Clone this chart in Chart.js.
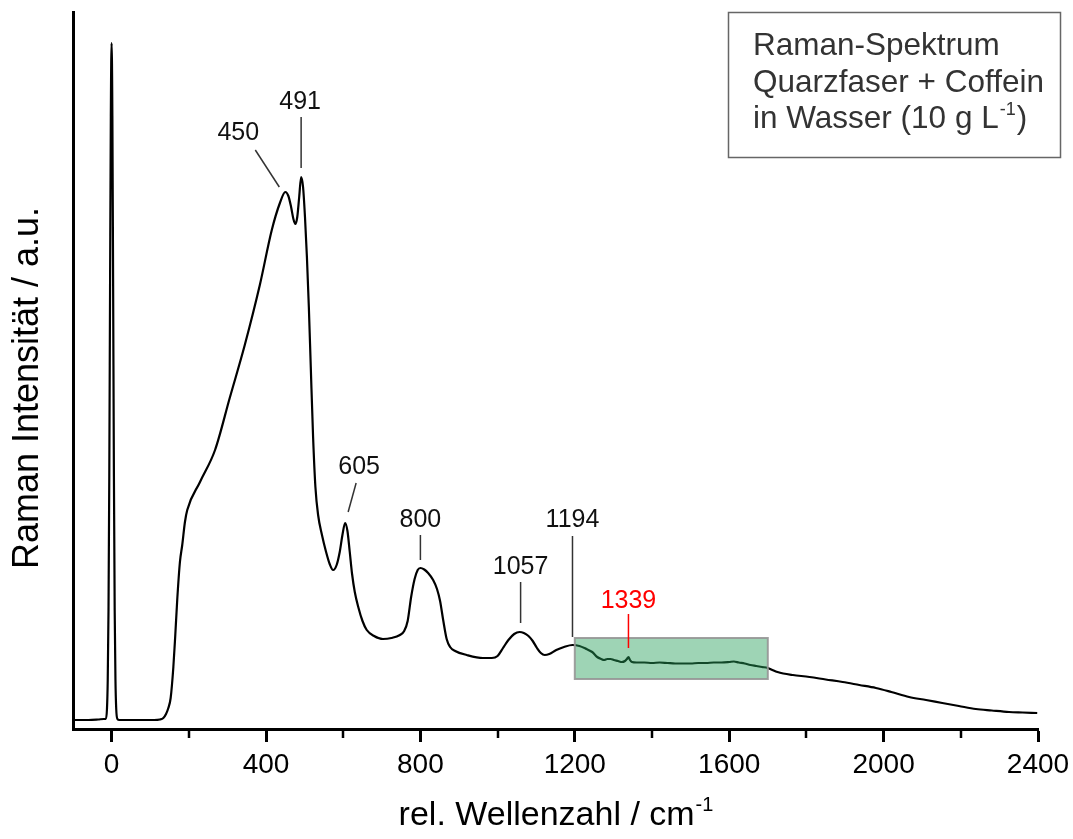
<!DOCTYPE html>
<html>
<head>
<meta charset="utf-8">
<script src="https://cdn.jsdelivr.net/npm/chart.js@4.4.1/dist/chart.umd.min.js"></script>
<style>
  html, body { margin: 0; padding: 0; background: #fff; }
</style>
</head>
<body>
<canvas id="spectrum" width="1073" height="839"></canvas>
<script>
// Raman spectrum: quartz fibre + caffeine in water
const wavenumber = [
  -100, -60, -35, -20, -15, -12, -10, -8, -6, -4, -2, 0, 2, 4, 6, 8, 10, 12, 15, 20, 40, 80, 110,
  125, 134, 141, 147, 153, 160, 165, 170, 177, 183, 190, 196, 229, 268, 306, 345, 384, 415, 436,
  450, 458, 465, 471, 476, 481, 486, 491, 496, 501, 506, 511,
  516, 522, 528, 535, 545, 555, 565, 574, 583, 591, 598, 605, 611, 617, 623, 630, 639, 650, 661,
  680, 703, 725, 747, 758, 767, 776, 785, 793, 800, 810, 820, 833, 843, 851, 859, 868, 877, 890,
  920, 962, 985, 1000, 1014, 1028, 1043, 1057, 1068, 1080, 1091, 1102, 1112, 1122, 1134, 1152,
  1172, 1194, 1212, 1230, 1245, 1258, 1268, 1276, 1284, 1293, 1301, 1312, 1322, 1330, 1335, 1339,
  1343, 1348, 1360, 1380, 1400, 1420, 1440, 1460, 1480, 1500, 1520, 1540, 1560, 1580, 1600, 1612,
  1625, 1640, 1655, 1670, 1685, 1700, 1712, 1725, 1740, 1765, 1808, 1850, 1894, 1937, 1980, 2020,
  2066, 2110, 2152, 2195, 2239, 2280, 2325, 2360, 2398
];
const intensity = [
  7, 7, 7.5, 8, 8, 18, 47, 117, 251, 437, 611, 684, 611, 437, 251, 117, 47, 18, 8, 7, 7, 7, 7,
  7.5, 9, 13, 19, 29, 60, 92, 127, 165, 182, 205, 217, 245, 277, 329, 382, 442, 497, 524,
  535, 531, 520, 508, 503, 510, 530, 550, 540, 510, 470, 420,
  360, 290, 240, 212, 192, 176, 163, 157, 162, 175, 192, 204, 196, 175, 153, 135, 120, 106, 97,
  91, 88, 89, 92, 96, 106, 130, 148, 157, 159, 157.5, 154, 147, 138, 126, 107, 88, 80, 76,
  72, 69, 69, 71, 79, 87, 93, 95, 94, 91, 86, 79, 74, 72, 73, 77,
  80, 82, 81, 78, 75, 70, 68, 67, 68, 68, 67, 66, 65, 66, 68, 70,
  67, 65, 64.5, 64.5, 64, 64.5, 64, 63.5, 63.5, 63.5, 64, 64, 64.5, 64.5, 65, 65.5,
  64.5, 63.5, 62, 61, 60, 59, 57, 55, 53.5, 52, 50, 47.5, 45, 42, 39, 35,
  30, 27, 24, 21, 18, 16.5, 15, 14.5, 14
];

const peakPositions = [450, 491, 605, 800, 1057, 1194, 1339];
const peakLabels = ['450', '491', '605', '800', '1057', '1194', '1339'];
const highlightRange = [1200, 1700];
const highlightLevels = [48, 89];

const FONT = "'Liberation Sans', Arial, sans-serif";

// label placement around each peak, in pixels relative to the peak top
const labelLayout = {
  450:  { text: [-47, -59], from: [-6, -5], to: [-30, -42] },
  491:  { text: [-1, -75],  from: [0, -9],  to: [0, -60] },
  605:  { text: [14, -56],  from: [3, -11], to: [11, -40] },
  800:  { text: [0, -48],   from: [0, -8],  to: [0, -33] },
  1057: { text: [1, -65],   from: [1, -9],  to: [1, -50] },
  1194: { text: [0, -125],  from: [0, -8],  to: [0, -109] },
  1339: { text: [0, -56],   from: [0, -9],  to: [0, -43], color: '#ff0000' }
};

function drawSup(ctx, main, sup, x, y, size, supSize, align) {
  ctx.font = size + 'px ' + FONT;
  const w1 = ctx.measureText(main).width;
  ctx.font = supSize + 'px ' + FONT;
  const w2 = ctx.measureText(sup).width;
  let start = x;
  if (align === 'center') start = x - (w1 + w2) / 2;
  ctx.textAlign = 'left';
  ctx.font = size + 'px ' + FONT;
  ctx.fillText(main, start, y);
  ctx.font = supSize + 'px ' + FONT;
  ctx.fillText(sup, start + w1 + 1, y - size * 0.42);
  return start + w1 + 1 + w2;
}

const highlightBox = {
  id: 'highlightBox',
  afterDatasetsDraw(chart) {
    const { ctx, scales: { x, y } } = chart;
    const x0 = x.getPixelForValue(highlightRange[0]);
    const x1 = x.getPixelForValue(highlightRange[1]);
    const y0 = y.getPixelForValue(highlightLevels[1]);
    const y1 = y.getPixelForValue(highlightLevels[0]);
    ctx.save();
    ctx.fillStyle = 'rgba(40, 160, 90, 0.45)';
    ctx.fillRect(x0, y0, x1 - x0, y1 - y0);
    ctx.strokeStyle = 'rgba(150, 150, 150, 0.9)';
    ctx.lineWidth = 2;
    ctx.strokeRect(x0, y0, x1 - x0, y1 - y0);
    ctx.restore();
  }
};

const decorations = {
  id: 'decorations',
  afterDraw(chart) {
    const { ctx, chartArea: area, scales: { x, y } } = chart;
    ctx.save();

    // minor ticks between the labelled ones
    ctx.strokeStyle = '#000';
    ctx.lineWidth = 2.5;
    for (let v = 200; v < 2400; v += 400) {
      const px = Math.round(x.getPixelForValue(v));
      ctx.beginPath();
      ctx.moveTo(px, area.bottom);
      ctx.lineTo(px, area.bottom + 9);
      ctx.stroke();
    }

    // peak annotations
    ctx.textAlign = 'center';
    ctx.textBaseline = 'middle';
    ctx.font = '25px ' + FONT;
    peakPositions.forEach((p, i) => {
      const idx = wavenumber.indexOf(p);
      const px = x.getPixelForValue(p);
      const py = y.getPixelForValue(intensity[idx]);
      const l = labelLayout[p];
      const col = l.color || '#111';
      ctx.strokeStyle = l.color || '#333';
      ctx.lineWidth = 1.5;
      ctx.beginPath();
      ctx.moveTo(px + l.from[0], py + l.from[1]);
      ctx.lineTo(px + l.to[0], py + l.to[1]);
      ctx.stroke();
      ctx.fillStyle = col;
      ctx.fillText(peakLabels[i], px + l.text[0], py + l.text[1]);
    });

    // legend box
    ctx.strokeStyle = '#666';
    ctx.lineWidth = 1.5;
    ctx.strokeRect(728.5, 12.5, 332, 145);
    ctx.fillStyle = '#333';
    ctx.textAlign = 'left';
    ctx.textBaseline = 'alphabetic';
    ctx.font = '31.5px ' + FONT;
    ctx.fillText('Raman-Spektrum', 753, 55);
    ctx.fillText('Quarzfaser + Coffein', 753, 92);
    const end = drawSup(ctx, 'in Wasser (10 g L', '-1', 753, 128, 31.5, 18, 'left');
    ctx.font = '31.5px ' + FONT;
    ctx.fillText(')', end + 1, 128);

    // axis titles
    ctx.fillStyle = '#000';
    drawSup(ctx, 'rel. Wellenzahl / cm', '-1', (area.left + area.right) / 2, 825, 34, 20, 'center');

    ctx.save();
    ctx.translate(38, 388);
    ctx.rotate(-Math.PI / 2);
    ctx.textAlign = 'center';
    ctx.font = '36px ' + FONT;
    ctx.fillText('Raman Intensität / a.u.', 0, 0);
    ctx.restore();

    ctx.restore();
  }
};

new Chart(document.getElementById('spectrum').getContext('2d'), {
  type: 'line',
  data: {
    datasets: [{
      data: wavenumber.map((w, i) => ({ x: w, y: intensity[i] })),
      borderColor: '#000',
      borderWidth: 2.2,
      pointRadius: 0,
      cubicInterpolationMode: 'monotone',
      fill: false
    }]
  },
  options: {
    responsive: false,
    devicePixelRatio: 1,
    animation: false,
    layout: { padding: { top: 12, right: 35, left: 0, bottom: 0 } },
    plugins: { legend: { display: false }, tooltip: { enabled: false } },
    scales: {
      x: {
        type: 'linear',
        position: 'bottom',
        min: -100,
        max: 2400,
        grid: {
          display: true,
          drawOnChartArea: false,
          drawTicks: true,
          tickLength: 13,
          tickWidth: 3,
          tickColor: ctx => (ctx.tick && ctx.tick.value % 400 === 0) ? '#000' : 'rgba(0,0,0,0)'
        },
        border: { display: true, color: '#000', width: 3 },
        ticks: {
          stepSize: 200,
          includeBounds: false,
          autoSkip: false,
          maxRotation: 0,
          padding: 6,
          color: '#000',
          font: { family: FONT, size: 28 },
          callback: v => (v % 400 === 0 ? v : '')
        },
        afterFit: s => {
          s.height = 110;
          s.paddingLeft = 0;
          s.paddingRight = 0;
        }
      },
      y: {
        min: -2,
        max: 715,
        grid: { display: false },
        border: { display: true, color: '#000', width: 3 },
        ticks: { display: false },
        afterFit: s => { s.width = 73; }
      }
    }
  },
  plugins: [highlightBox, decorations]
});
</script>
</body>
</html>
